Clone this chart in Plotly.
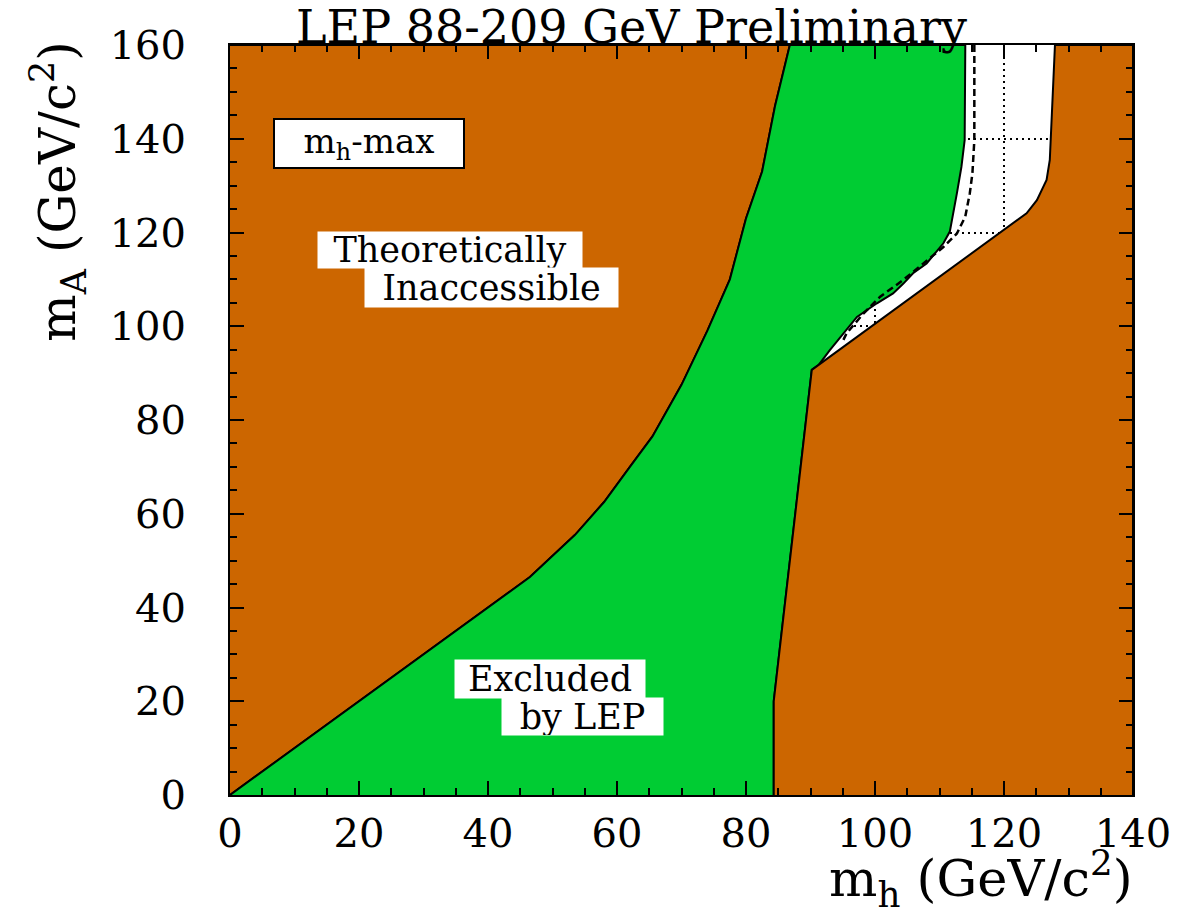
import plotly.graph_objects as go

# ---- data ----
# left theoretical boundary (theoretically inaccessible, left side)
left_mh = [0, 46.5, 53.5, 58, 62, 65.5, 70, 74, 77.5, 80, 82.5, 84.5, 86.8]
left_mA = [0, 46.5, 55.5, 62.5, 70, 76.5, 87.5, 99, 110, 123, 133, 147, 160]

# right theoretical boundary (theoretically inaccessible, right side), bottom to top
right_mh = [84.3, 84.3, 90.2, 123.5, 125.1, 126.6, 127.1, 127.9]
right_mA = [0, 20, 90.7, 124.1, 126.9, 131.2, 135.5, 160]

# observed LEP exclusion limit, top to bottom
obs_mh = [114.0, 113.9, 113.4, 112.7, 111.9, 111.6, 110.6, 108.0, 105.9, 104.4, 102.8, 100.3, 97.2, 95.1, 93.0, 91.3]
obs_mA = [160, 139.7, 134.0, 128.4, 122.7, 120.2, 117.7, 113.4, 111.3, 109.1, 107.0, 104.9, 102.0, 98.5, 94.9, 91.8]

# expected limit (dashed), top to bottom
exp_mh = [115.4, 115.4, 115.1, 114.7, 114.0, 112.7, 110.6, 107.5, 104.4, 100.8, 98.2, 95.6, 95.1]
exp_mA = [160, 139.7, 132.6, 128.4, 123.4, 119.8, 116.9, 113.4, 109.9, 106.3, 102.7, 98.5, 97.1]

x_range = [0, 140]
y_range = [0, 160]

BROWN = "rgb(204,102,0)"
GREEN = "rgb(0,204,51)"
FONT = "DejaVu Serif"

fig = go.Figure()

# left brown region
lx = left_mh + [x_range[0]]
ly = left_mA + [y_range[1]]
fig.add_trace(go.Scatter(x=lx, y=ly, fill="toself", fillcolor=BROWN, mode="lines",
                         line=dict(color="black", width=2), hoverinfo="skip", showlegend=False))

# green excluded region
gx = left_mh + obs_mh + right_mh[2::-1]
gy = left_mA + obs_mA + right_mA[2::-1]
fig.add_trace(go.Scatter(x=gx, y=gy, fill="toself", fillcolor=GREEN, mode="lines",
                         line=dict(color="black", width=2), hoverinfo="skip", showlegend=False))

# right brown region
rx = right_mh + [x_range[1], x_range[1]]
ry = right_mA + [y_range[1], y_range[0]]
fig.add_trace(go.Scatter(x=rx, y=ry, fill="toself", fillcolor=BROWN, mode="lines",
                         line=dict(color="black", width=2), hoverinfo="skip", showlegend=False))

# expected limit dashed
fig.add_trace(go.Scatter(x=exp_mh, y=exp_mA, mode="lines",
                         line=dict(color="black", width=2.5, dash="7px,4px"),
                         hoverinfo="skip", showlegend=False))

axis_common = dict(
    showline=True, linecolor="black", linewidth=2, mirror="ticks",
    ticks="inside", ticklen=14, tickwidth=2, tickcolor="black",
    dtick=20, tick0=0,
    minor=dict(dtick=5, ticklen=7, tickwidth=1.5, ticks="inside", tickcolor="black", showgrid=False),
    showgrid=True, gridcolor="black", gridwidth=1.5, griddash="2px,4px",
    zeroline=False,
    tickfont=dict(family=FONT, size=40, color="black"),
)

fig.update_xaxes(range=x_range, ticklabelstandoff=2, **axis_common)
fig.update_yaxes(range=y_range, ticklabelstandoff=34, **axis_common)

annotations = [
    # title
    dict(text="LEP 88-209 GeV Preliminary", xref="paper", yref="paper", x=0.4446, y=1.024,
         xanchor="center", yanchor="middle", showarrow=False,
         font=dict(family=FONT, size=46, color="black")),
    # x-axis title
    dict(text="m<sub>h</sub> (GeV/c<sup>2</sup>)", xref="paper", yref="paper", x=1.002, y=-0.163,
         xanchor="right", yanchor="bottom", showarrow=False,
         font=dict(family=FONT, size=51, color="black")),
    # y-axis title
    dict(text="m<sub>A</sub> (GeV/c<sup>2</sup>)", xref="paper", yref="paper", x=-0.19, y=0.805,
         xanchor="center", yanchor="middle", textangle=-90, showarrow=False,
         font=dict(family=FONT, size=50, color="black")),
    # scenario box
    dict(text="m<sub>h</sub>-max", x=21.55, y=139.0, xref="x", yref="y", showarrow=False,
         bgcolor="white", bordercolor="black", borderwidth=2, borderpad=0, width=188, height=47,
         font=dict(family=FONT, size=34, color="black")),
    dict(text="Theoretically", x=34.11, y=116.27, xref="x", yref="y", showarrow=False,
         bgcolor="white", borderpad=0, width=264, height=36,
         font=dict(family=FONT, size=35, color="black")),
    dict(text="Inaccessible", x=40.54, y=108.27, xref="x", yref="y", showarrow=False,
         bgcolor="white", borderpad=0, width=253, height=39,
         font=dict(family=FONT, size=35, color="black")),
    dict(text="Excluded", x=49.61, y=24.75, xref="x", yref="y", showarrow=False,
         bgcolor="white", borderpad=0, width=190, height=38,
         font=dict(family=FONT, size=35, color="black")),
    dict(text="by LEP", x=54.65, y=16.75, xref="x", yref="y", showarrow=False,
         bgcolor="white", borderpad=0, width=161, height=37,
         font=dict(family=FONT, size=35, color="black")),
]

# the page body adds an 8px offset, so the figure is 8px smaller and margins shifted
fig.update_layout(
    width=1174, height=901,
    margin=dict(l=222, r=49, t=37, b=114),
    paper_bgcolor="white", plot_bgcolor="white",
    showlegend=False,
    annotations=annotations,
)

fig.write_html("out.html")
